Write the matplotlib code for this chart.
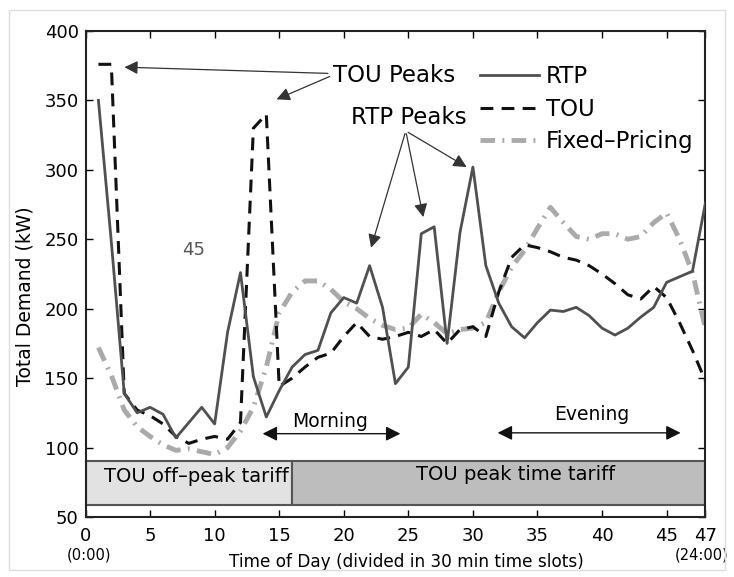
import matplotlib
matplotlib.use("Agg")
from matplotlib import pyplot as plt
from matplotlib.patches import Rectangle

# time slots (half hours) and demand in kW
slots = list(range(1, 49))

rtp = [350, 248, 139, 125, 129, 124, 107, 118, 129, 117,
       183, 226, 151, 122, 141, 158, 167, 170, 197, 208,
       204, 231, 201, 146, 158, 254, 259, 175, 255, 302,
       231, 204, 187, 179, 190, 199, 198, 201, 195, 186,
       181, 186, 194, 201, 219, 223, 227, 276]

tou = [376, 376, 139, 127, 123, 117, 108, 103, 106, 108,
       106, 118, 330, 340, 144, 150, 158, 165, 168, 180,
       190, 180, 178, 180, 183, 180, 185, 175, 185, 187,
       180, 212, 237, 246, 244, 241, 237, 235, 231, 225,
       218, 210, 207, 216, 208, 190, 170, 148]

fixed = [172, 152, 127, 115, 108, 102, 98, 99, 97, 95,
         100, 112, 129, 158, 197, 212, 220, 220, 214, 205,
         200, 193, 188, 185, 186, 196, 190, 182, 185, 186,
         190, 212, 230, 242, 258, 273, 262, 252, 250, 254,
         254, 250, 252, 262, 269, 250, 226, 186]

xtick_pos = [0, 5, 10, 15, 20, 25, 30, 35, 40, 45, 48]
xtick_lab = ['0', '5', '10', '15', '20', '25', '30', '35', '40', '45', '47']

fig = plt.figure(figsize=(7.34, 5.77), dpi=100)
ax = fig.add_axes([0.1165, 0.104, 0.8445, 0.8423])

# image border
fig.patches.append(Rectangle((9 / 734, 7 / 577), 716 / 734, 560 / 577,
                             transform=fig.transFigure, fill=False,
                             edgecolor='#dddddd', lw=1))

# tariff bands
ax.add_patch(Rectangle((0, 58.5), 16, 32, facecolor='#e2e2e2',
                       edgecolor='#555555', lw=1.5, zorder=1))
ax.add_patch(Rectangle((16, 58.5), 32, 32, facecolor='#bdbdbd',
                       edgecolor='#555555', lw=1.5, zorder=1))
ax.text(8.55, 79.5, 'TOU off\u2013peak tariff', ha='center', va='center', fontsize=14)
ax.text(33.3, 80.5, 'TOU peak time tariff', ha='center', va='center', fontsize=14)

ax.plot(slots, rtp, '-', color='#505050', lw=2, label='RTP', zorder=4)
ax.plot(slots, tou, '--', color='#111111', lw=2.2, dashes=(4.2, 2.7), label='TOU', zorder=3)
ax.plot(slots, fixed, '-.', color='#aaaaaa', lw=3.5, dashes=(3, 1.5, 0.4, 1.5),
        label='Fixed\u2013Pricing', zorder=2)

ax.set_xlim(0, 48)
ax.set_ylim(50, 400)
ax.set_yticks(range(50, 401, 50))
ax.set_xticks(xtick_pos)
ax.set_xticklabels(xtick_lab)
ax.tick_params(direction='in', top=True, right=True, length=5, labelsize=13, width=1)
ax.tick_params(axis='x', pad=7)
ax.tick_params(axis='y', pad=5)
for s in ax.spines.values():
    s.set_linewidth(1.5)
    s.set_color('#222222')

ax.text(0.3, 22.7, '(0:00)', ha='center', va='center', fontsize=10.5)
ax.text(47.7, 22.7, '(24:00)', ha='center', va='center', fontsize=10.5)
ax.text(0.518, -0.0926, 'Time of Day (divided in 30 min time slots)', transform=ax.transAxes,
        ha='center', va='center', fontsize=12.2)
ax.text(-0.0976, 0.455, 'Total Demand (kW)', transform=ax.transAxes, rotation=90,
        ha='center', va='center', fontsize=13.5)

ax.text(8.33, 242, '45', fontsize=13, color='#555555', ha='center', va='center')

arr = dict(arrowstyle='-|>', color='#333333', lw=0.9, mutation_scale=20)
ax.annotate('TOU Peaks', xy=(2.8, 374), xytext=(19.2, 368), fontsize=16.5,
            va='center', ha='left', arrowprops=arr)
ax.annotate('', xy=(14.6, 350), xytext=(19.1, 368), arrowprops=arr)
ax.text(25.0, 338, 'RTP Peaks', fontsize=16.5, ha='center', va='center')
for px, py in [(22.05, 242), (26.2, 264), (29.7, 301)]:
    ax.annotate('', xy=(px, py), xytext=(24.8, 328), arrowprops=arr)

both = dict(arrowstyle='<|-|>', color='#111111', lw=1, mutation_scale=22)
ax.annotate('', xy=(13.5, 110), xytext=(24.6, 110), arrowprops=both)
ax.text(18.95, 119, 'Morning', fontsize=13.5, ha='center', va='center')
ax.annotate('', xy=(31.7, 110.6), xytext=(46.3, 110.6), arrowprops=both)
ax.text(39.2, 123.5, 'Evening', fontsize=13.5, ha='center', va='center')

ax.legend(frameon=False, loc='upper left', bbox_to_anchor=(0.636, 0.93),
          fontsize=16.5, handlelength=2.6, labelspacing=0.42, handletextpad=0.3,
          borderaxespad=0, borderpad=0)

fig.savefig('out.png', dpi=100)
